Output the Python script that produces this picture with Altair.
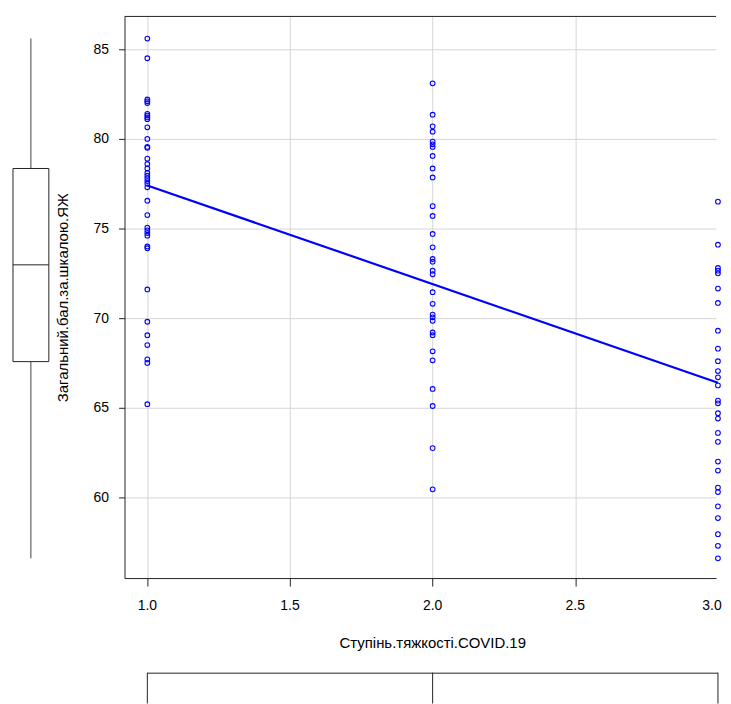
import altair as alt
import pandas as pd

# ---- data ----
severity_levels = [1, 2, 3]
scores_1 = [85.6, 84.5, 82.2, 82.1, 82.0, 81.4, 81.3, 81.2, 81.1, 80.65, 80.0, 79.55,
            79.5, 78.9, 78.6, 78.35, 78.1, 77.95, 77.8, 77.65, 77.5, 77.3, 76.55,
            75.75, 75.05, 74.9, 74.75, 74.6, 74.0, 73.9, 71.6, 69.8, 69.05, 68.5,
            67.7, 67.5, 65.2]
scores_2 = [83.1, 81.35, 80.7, 80.4, 79.85, 79.7, 79.55, 79.05, 78.35, 77.85, 76.25,
            75.7, 74.7, 73.95, 73.3, 73.15, 72.65, 72.45, 71.45, 70.8, 70.2, 70.05,
            69.85, 69.2, 69.05, 68.15, 67.65, 66.05, 65.1, 62.75, 60.45]
scores_3 = [76.5, 74.1, 72.8, 72.65, 72.5, 71.65, 70.85, 69.3, 68.3, 67.6, 67.05,
            66.7, 66.25, 65.4, 65.25, 64.7, 64.4, 63.6, 63.1, 62.0, 61.5, 60.55,
            60.3, 59.5, 58.85, 57.95, 57.3, 56.6]

x_ticks = [1.0, 1.5, 2.0, 2.5, 3.0]
y_ticks = [60, 65, 70, 75, 80, 85]
X_TITLE = "Ступінь.тяжкості.COVID.19"
Y_TITLE = "Загальний.бал.за.шкалою.ЯЖ"

rows = []
for lvl, vals in zip(severity_levels, [scores_1, scores_2, scores_3]):
    for v in vals:
        rows.append({"sev": lvl, "score": v})
df = pd.DataFrame(rows)
tick_df = pd.DataFrame({"tick": x_ticks})

# ---- layout ----
FONT = "Liberation Sans"
W_MAIN, H_MAIN = 594, 564
W_LEFT = 44
H_LABELS = 95
H_BOTTOM = 31
BLUE = "#0000ff"
INK = "#222222"
GRID = "#d6d6d6"
LABEL_SIZE = 14
TITLE_SIZE = 15

xscale = alt.Scale(domain=[0.92, 0.92 + W_MAIN / 286.5], nice=False, zero=False)
yscale = alt.Scale(domain=[55.5, 86.833], nice=False, zero=False)

base = alt.Chart(df)

points = base.mark_point(shape="circle", filled=False, color=BLUE, size=22,
                         strokeWidth=1.1, opacity=1).encode(
    x=alt.X("sev:Q", scale=xscale,
            axis=alt.Axis(values=x_ticks, labels=False, title=X_TITLE, grid=True,
                          gridColor=GRID, tickSize=8,
                          domainColor=INK, tickColor=INK,
                          titleX=309, titleY=65, titleBaseline="middle",
                          titleAlign="center")),
    y=alt.Y("score:Q", scale=yscale,
            axis=alt.Axis(values=y_ticks, title=Y_TITLE, grid=True, gridColor=GRID,
                          tickSize=6, labelPadding=10, domainColor=INK, tickColor=INK,
                          titleX=-62, titleY=282, titleBaseline="middle",
                          titleAlign="center", titleAngle=270)),
)

fit = base.transform_regression("sev", "score").mark_line(
    color=BLUE, strokeWidth=2.2).encode(
    x=alt.X("sev:Q", scale=xscale),
    y=alt.Y("score:Q", scale=yscale),
)

# top edge of the plot frame
top_edge = base.transform_aggregate(n_rows="count()").mark_rule(color=INK).encode(
    x=alt.value(0), x2=alt.value(W_MAIN), y=alt.value(0))

main = alt.layer(points, fit, top_edge).properties(width=W_MAIN, height=H_MAIN)

# ---- x tick labels; the last one is nudged so that it stays on the page ----
tick_base = alt.Chart(tick_df)
tick_inner = tick_base.transform_filter("datum.tick < 3").mark_text(
    font=FONT, fontSize=LABEL_SIZE, color="#000000", baseline="middle",
    align="center").encode(
    x=alt.X("tick:Q", scale=xscale, axis=None),
    y=alt.value(28),
    text=alt.Text("tick:Q", format=".1f"),
)
tick_last = tick_base.transform_filter("datum.tick >= 3").mark_text(
    font=FONT, fontSize=LABEL_SIZE, color="#000000", baseline="middle",
    align="center", dx=-6).encode(
    x=alt.X("tick:Q", scale=xscale, axis=None),
    y=alt.value(28),
    text=alt.Text("tick:Q", format=".1f"),
)
labels_panel = alt.layer(tick_inner, tick_last).properties(width=W_MAIN, height=H_LABELS)

# ---- left marginal boxplot (scores) ----
lbase = base.transform_aggregate(
    y_lo="min(score)", y_q1="q1(score)", y_med="median(score)", y_q3="q3(score)",
    y_hi="max(score)")
l_w1 = lbase.mark_rule(color="#444444").encode(
    x=alt.value(22), y=alt.Y("y_lo:Q", scale=yscale, axis=None), y2="y_q1:Q")
l_w2 = lbase.mark_rule(color="#444444").encode(
    x=alt.value(22), y=alt.Y("y_q3:Q", scale=yscale, axis=None), y2="y_hi:Q")
l_box = lbase.mark_rect(fill="white", stroke=INK, strokeWidth=1).encode(
    x=alt.value(4), x2=alt.value(40),
    y=alt.Y("y_q1:Q", scale=yscale, axis=None), y2="y_q3:Q")
l_med = lbase.mark_rule(color=INK).encode(
    x=alt.value(4), x2=alt.value(40),
    y=alt.Y("y_med:Q", scale=yscale, axis=None))
left = alt.layer(l_w1, l_w2, l_box, l_med).properties(width=W_LEFT, height=H_MAIN)

# ---- bottom marginal boxplot (severity), cut by the page edge ----
bbase = base.transform_aggregate(x_q1="q1(sev)", x_med="median(sev)", x_q3="q3(sev)")
b_top = bbase.mark_rule(color=INK).encode(
    x=alt.X("x_q1:Q", scale=xscale, axis=None), x2="x_q3:Q", y=alt.value(0.5))
b_lo = bbase.mark_rule(color=INK).encode(
    x=alt.X("x_q1:Q", scale=xscale, axis=None), y=alt.value(0), y2=alt.value(H_BOTTOM))
b_med = bbase.mark_rule(color=INK).encode(
    x=alt.X("x_med:Q", scale=xscale, axis=None), y=alt.value(0), y2=alt.value(H_BOTTOM))
b_hi = bbase.mark_rule(color=INK).encode(
    x=alt.X("x_q3:Q", scale=xscale, axis=None), y=alt.value(0), y2=alt.value(H_BOTTOM))
bottom = alt.layer(b_top, b_lo, b_med, b_hi).properties(width=W_MAIN, height=H_BOTTOM)

right = alt.vconcat(main, labels_panel, bottom, spacing=0, bounds="flush")
chart = alt.hconcat(left, right, spacing=72, bounds="flush").properties(
    padding={"left": 0, "top": 6, "right": 0, "bottom": 0}
).configure_view(stroke="transparent").configure_axis(
    labelFont=FONT, labelFontSize=LABEL_SIZE, labelColor="#000000",
    titleFont=FONT, titleFontSize=TITLE_SIZE, titleFontWeight="normal",
    titleColor="#000000", domainWidth=1, tickWidth=1, gridWidth=1,
)

chart.save("out.html", embed_options={"renderer": "svg", "actions": False})
